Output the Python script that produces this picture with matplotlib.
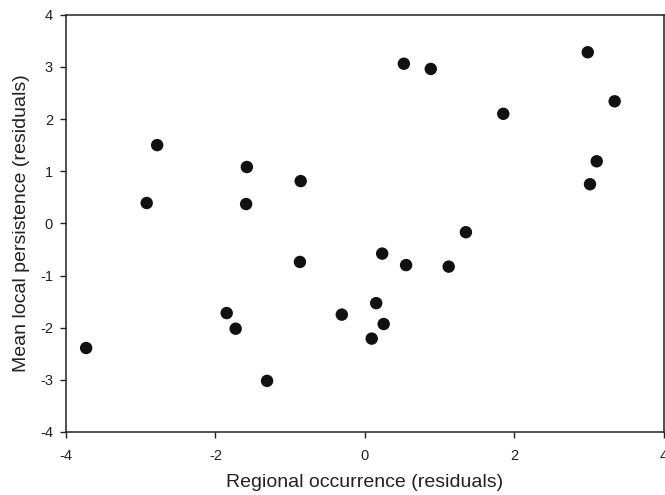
import matplotlib
matplotlib.use("Agg")
import matplotlib.pyplot as plt

plt.rcParams['font.family'] = ['Liberation Sans', 'DejaVu Sans']
plt.rcParams['axes.unicode_minus'] = False

x_resid = [-3.73, -2.92, -2.78, -1.58, -1.59, -1.85, -1.73, -1.31, -0.86, -0.87,
           -0.31, 0.09, 0.15, 0.23, 0.25, 0.52, 0.55, 0.88, 1.12, 1.35,
           1.85, 2.98, 3.34, 3.10, 3.01]
y_resid = [-2.39, 0.39, 1.50, 1.08, 0.37, -1.72, -2.02, -3.02, 0.81, -0.74,
           -1.75, -2.21, -1.53, -0.58, -1.93, 3.06, -0.80, 2.96, -0.83, -0.17,
           2.10, 3.28, 2.34, 1.19, 0.75]
x_ticks = [-4, -2, 0, 2, 4]
y_ticks = [-4, -3, -2, -1, 0, 1, 2, 3, 4]

fig = plt.figure(figsize=(6.65, 4.95), dpi=100)
ax = fig.add_axes([0.0992, 0.1273, 0.8993, 0.843])
ax.scatter(x_resid, y_resid, s=80, color='#111111', edgecolors='none', zorder=3)
ax.set_xlim(-4, 4)
ax.set_ylim(-4, 4)
ax.set_xticks(x_ticks)
ax.set_yticks(y_ticks)
ax.tick_params(direction='out', length=4.3, width=1, labelsize=10.5, colors='#222222')
ax.tick_params(axis='x', pad=8)
ax.tick_params(axis='y', pad=5)
for sp in ax.spines.values():
    sp.set_linewidth(1.1)
    sp.set_color('#222222')
ax.set_xlabel('Regional occurrence (residuals)', fontsize=14, color='#222222', labelpad=8)
ax.set_ylabel('Mean local persistence (residuals)', fontsize=14, color='#222222', labelpad=7)
fig.savefig('out.png', dpi=100)
